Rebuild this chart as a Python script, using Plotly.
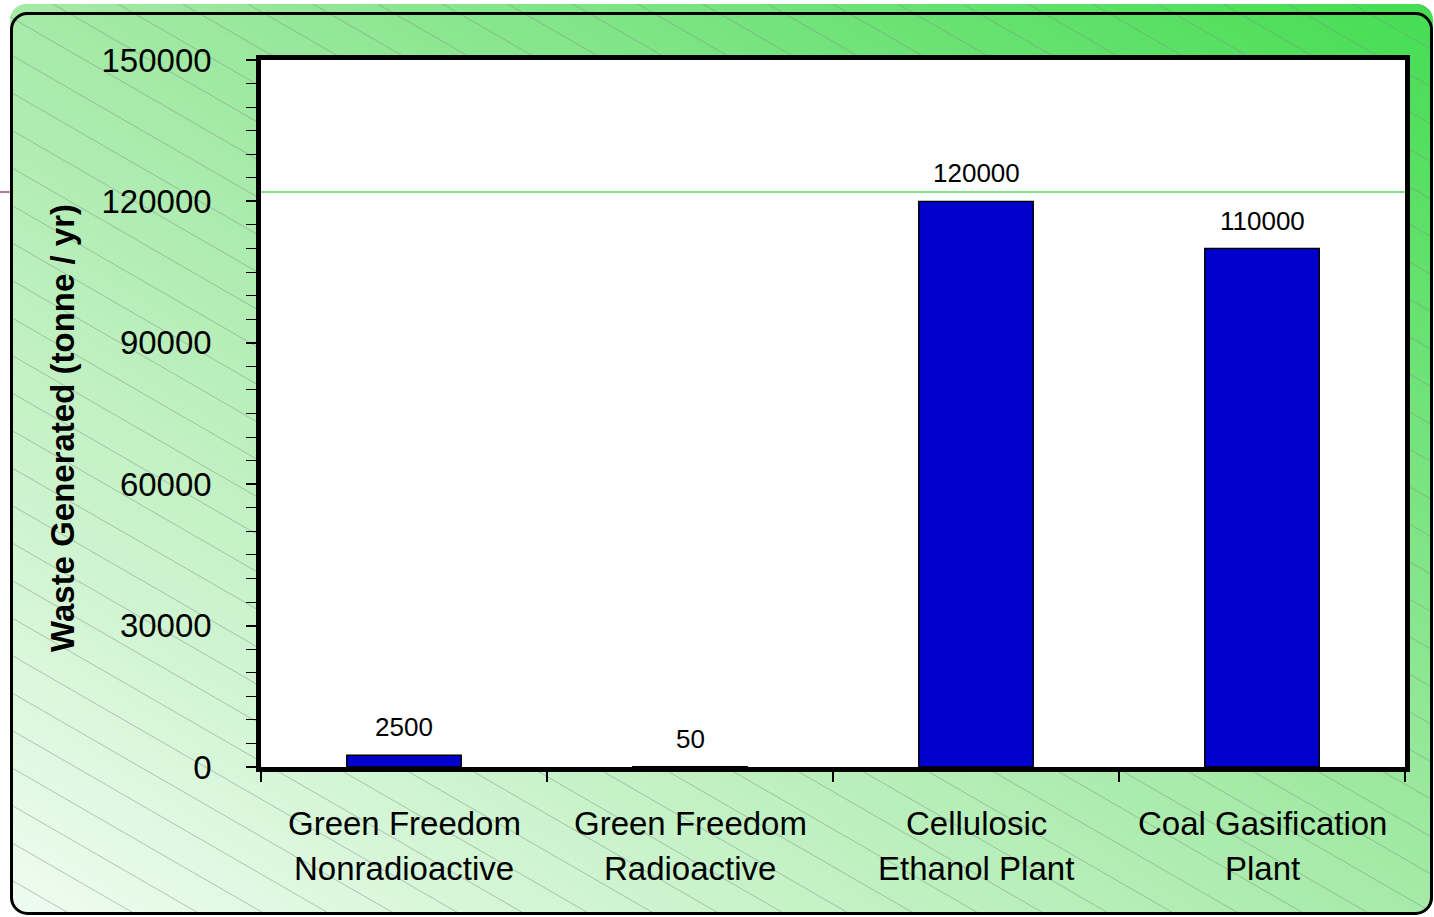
import base64
import plotly.graph_objects as go

# ---- data ----
cat_line1 = ["Green Freedom", "Green Freedom", "Cellulosic", "Coal Gasification"]
cat_line2 = ["Nonradioactive", "Radioactive", "Ethanol Plant", "Plant"]
categories = [f"{a} {b}" for a, b in zip(cat_line1, cat_line2)]
waste = [2500, 50, 120000, 110000]
y_ticks = [0, 30000, 60000, 90000, 120000, 150000]
y_ticktext = ["0", "30000", "60000", "90000", "120000", "150000"]
y_title = "Waste Generated (tonne / yr)"

FONT = "Arial, Liberation Sans"

# ---- layout geometry ----
W, H = 1434, 917
L, R, T, B = 261, 29, 60, 150
PW, PH = W - L - R, H - T - B

# background: gradient + diagonal hatch + rounded border (decoration)
lines = []
for k in range(-24, 27):
    y0 = 11 + k * 37.5
    lines.append(f'<line x1="0" y1="{y0:.1f}" x2="{W}" y2="{y0 + 0.577 * W:.1f}"/>')
svg = f'''<svg xmlns="http://www.w3.org/2000/svg" width="{W}" height="{H}" viewBox="0 0 {W} {H}">
<defs><linearGradient id="g" x1="0" y1="1" x2="1" y2="0">
<stop offset="0" stop-color="#effcf0"/><stop offset="0.5" stop-color="#a6eaa8"/><stop offset="1" stop-color="#45dd52"/></linearGradient>
<clipPath id="c"><rect x="10" y="4" width="1423" height="910" rx="16"/></clipPath></defs>
<rect x="10" y="4" width="1423" height="910" rx="16" fill="url(#g)"/>
<g clip-path="url(#c)" stroke="#7f8f80" stroke-width="0.7" stroke-opacity="0.7">{"".join(lines)}</g>
<rect x="11.5" y="13.5" width="1420" height="900" rx="16" fill="none" stroke="#000" stroke-width="3"/>
</svg>'''
src = "data:image/svg+xml;base64," + base64.b64encode(svg.encode()).decode()

fig = go.Figure()
fig.add_trace(go.Bar(
    x=categories, y=waste,
    marker=dict(color="#0000CD", line=dict(color="black", width=1.5)),
    cliponaxis=False,
))

annotations = []
for c, v in zip(categories, waste):
    annotations.append(dict(x=c, y=v, xref="x", yref="y", text=str(v), showarrow=False,
                            yanchor="bottom", yshift=11,
                            font=dict(size=26, color="black", family=FONT)))
for c, a, b in zip(categories, cat_line1, cat_line2):
    annotations.append(dict(x=c, y=0, xref="x", yref="paper", text=a, showarrow=False,
                            yanchor="middle", yshift=-56, font=dict(size=33, color="black", family=FONT)))
    annotations.append(dict(x=c, y=0, xref="x", yref="paper", text=b, showarrow=False,
                            yanchor="middle", yshift=-101, font=dict(size=33, color="black", family=FONT)))
# y-axis title
annotations.append(dict(x=-(L - 62) / PW, y=(767 - 428) / PH, xref="paper", yref="paper",
                        text=f"<b>{y_title}</b>", textangle=-90, showarrow=False,
                        xanchor="center", yanchor="middle",
                        font=dict(size=33, color="black", family=FONT)))

line_y = (767 - 192) / PH
fig.update_layout(
    width=W, height=H,
    margin=dict(l=L, r=R, t=T, b=B),
    paper_bgcolor="white", plot_bgcolor="white",
    bargap=0.6, showlegend=False,
    font=dict(family=FONT, color="black"),
    annotations=annotations,
    images=[dict(source=src, xref="paper", yref="paper",
                 x=-L / PW, y=1 + T / PH, sizex=W / PW, sizey=H / PH,
                 xanchor="left", yanchor="top", sizing="stretch", layer="below")],
    shapes=[
        dict(type="rect", xref="paper", yref="paper", x0=0, x1=1, y0=0, y1=1,
             fillcolor="white", line=dict(width=0), layer="below"),
        dict(type="line", xref="paper", yref="paper", x0=0, x1=1, y0=line_y, y1=line_y,
             line=dict(color="#55dd55", width=1.5)),
        dict(type="line", xref="paper", yref="paper", x0=-L / PW, x1=-(L - 10) / PW,
             y0=line_y, y1=line_y, line=dict(color="#a0508a", width=1.5)),
    ],
)
fig.update_xaxes(
    showline=True, mirror=True, linecolor="black", linewidth=4.5,
    ticks="outside", tickson="boundaries", ticklen=10, tickcolor="black", tickwidth=1.5,
    showticklabels=False, showgrid=False,
)
fig.update_yaxes(
    range=[0, 150000], tickvals=y_ticks, ticktext=y_ticktext, showline=True, mirror=True,
    linecolor="black", linewidth=4.5, ticks="outside", ticklen=10,
    tickcolor="black", tickwidth=1.5, tickfont=dict(size=33),
    ticklabelstandoff=28, showgrid=False, zeroline=False,
    minor=dict(dtick=5000, ticks="outside", ticklen=10, tickcolor="black", tickwidth=1.2, showgrid=False),
)
fig.write_html("out.html")
